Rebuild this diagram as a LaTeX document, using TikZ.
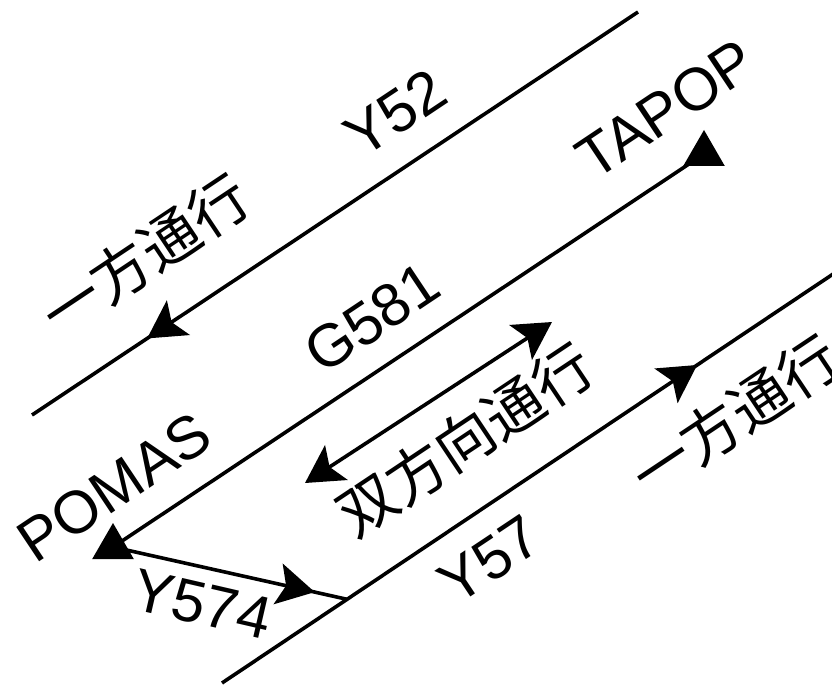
\documentclass[tikz,border=0pt]{standalone}
\usepackage{fontspec}
\setmainfont{Liberation Sans}
\newfontfamily\cjkfont{Noto Sans CJK JP}
\usetikzlibrary{arrows.meta,decorations.markings,calc,shapes.geometric}

\begin{document}
\begin{tikzpicture}[x=0.75pt,y=-0.75pt,
  >={Stealth[length=28pt,width=31pt,inset=6pt]},
  road/.style={line width=2.7pt},
  midarrow/.style={postaction={decorate,decoration={markings,
      mark=at position #1 with {\arrow{>}}}}},
  station/.style={regular polygon,regular polygon sides=3,fill=black,
      inner sep=0pt,minimum size=36pt},
  latinfont/.style={font=\fontsize{45}{45}\selectfont,inner sep=0pt},
  lab/.style={latinfont,rotate=33.7},
  cjk/.style={font=\cjkfont\fontsize{44}{44}\selectfont,inner sep=0pt,rotate=33.7}]

\useasboundingbox (0,0) rectangle (832,688);
\clip (0,0) rectangle (832,688);

% road end points
\coordinate (y52a) at (638,12);
\coordinate (y52b) at (32,415);
\coordinate (pomas) at (113,547);
\coordinate (tapop) at (704,154);
\coordinate (y57a) at (222,683);
\coordinate (y57b) at (860,256);
\coordinate (jn) at ($(y57a)!0.196!(y57b)$);
\coordinate (bothL) at (305,483);
\coordinate (bothR) at (552,322);

% roads
\draw[road,midarrow=0.81] (y52a) -- (y52b);
\draw[road] (tapop) -- (pomas);
\draw[road,midarrow=0.862] (pomas) -- (jn);
\draw[road,midarrow=0.745] (y57a) -- (y57b);
\draw[road,<->] (bothL) -- (bothR);

% stations
\node[station] (pomasmark) at (pomas) {};
\node[station] (tapopmark) at (tapop) {};

% labels
\node[lab] (ty52) at (395,113) {Y52};
\node[lab] (ttapop) at (666,109) {TAPOP};
\node[lab] (tg581) at (372,318) {G581};
\node[lab] (tpomas) at (114,487) {POMAS};
\node[lab] (ty57) at (490,560) {Y57};
\node[latinfont,rotate=-13] (ty574) at (202,604) {Y574};
\node[cjk] (tone1) at (145,255) {一方通行};
\node[cjk] (tboth) at (465,440) {双方向通行};
\node[cjk] (tone2) at (735,416) {一方通行};
\end{tikzpicture}
\end{document}
